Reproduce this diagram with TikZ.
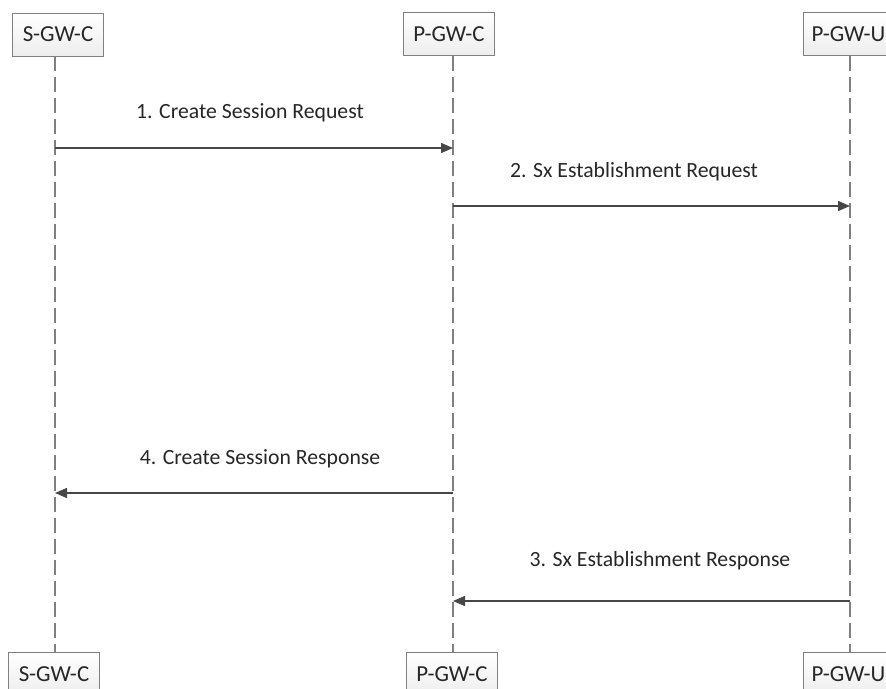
\documentclass[tikz,border=0pt]{standalone}
\usepackage{fontspec}
\setmainfont{Carlito}
\usetikzlibrary{arrows.meta}
\begin{document}
\begin{tikzpicture}[x=1bp,y=-1bp,
  actor/.style={draw=black!50, line width=0.8bp, top color=white, bottom color=black!7,
    minimum width=91bp, minimum height=43bp, inner sep=0pt,
    font=\fontsize{23}{26}\selectfont, text=black!85},
  life/.style={draw=black!50, line width=1.3bp, dash pattern=on 15bp off 6bp},
  msg/.style={draw=black!72, line width=1.4bp, -{Triangle[length=12bp,width=10bp]}},
  lbl/.style={font=\fontsize{21.8}{25}\selectfont, text=black!85, inner sep=0pt}]
\useasboundingbox (0,0) rectangle (886,689);
\clip (0,0) rectangle (886,689);
% actors
\node[actor] (s1) at (58,34.5) {S-GW-C};
\node[actor] (p1) at (449,34) {P-GW-C};
\node[actor] (u1) at (848.5,34) {P-GW-U};
\node[actor] (s2) at (54,674) {S-GW-C};
\node[actor] (p2) at (452,674) {P-GW-C};
\node[actor] (u2) at (848.5,674) {P-GW-U};
% lifelines
\coordinate (top) at (0,56);
\coordinate (bot) at (0,652);
\coordinate (sx) at (55,0);
\coordinate (px) at (453,0);
\coordinate (ux) at (850,0);
\draw[life] (sx |- top) -- (sx |- bot);
\draw[life] (px |- top) -- (px |- bot);
\draw[life] (ux |- top) -- (ux |- bot);
% messages
\coordinate (y1) at (0,148);
\coordinate (y2) at (0,206);
\coordinate (y4) at (0,493);
\coordinate (y3) at (0,601);
\draw[msg] (sx |- y1) -- (px |- y1);
\draw[msg] (px |- y2) -- (ux |- y2);
\draw[msg] (px |- y4) -- (sx |- y4);
\draw[msg] (ux |- y3) -- (px |- y3);
% labels
\node[lbl] (l1) at (250,113) {1. Create Session Request};
\node[lbl] (l2) at (634,172) {2. Sx Establishment Request};
\node[lbl] (l4) at (260,459) {4. Create Session Response};
\node[lbl] (l3) at (660,561) {3. Sx Establishment Response};
\end{tikzpicture}
\end{document}
